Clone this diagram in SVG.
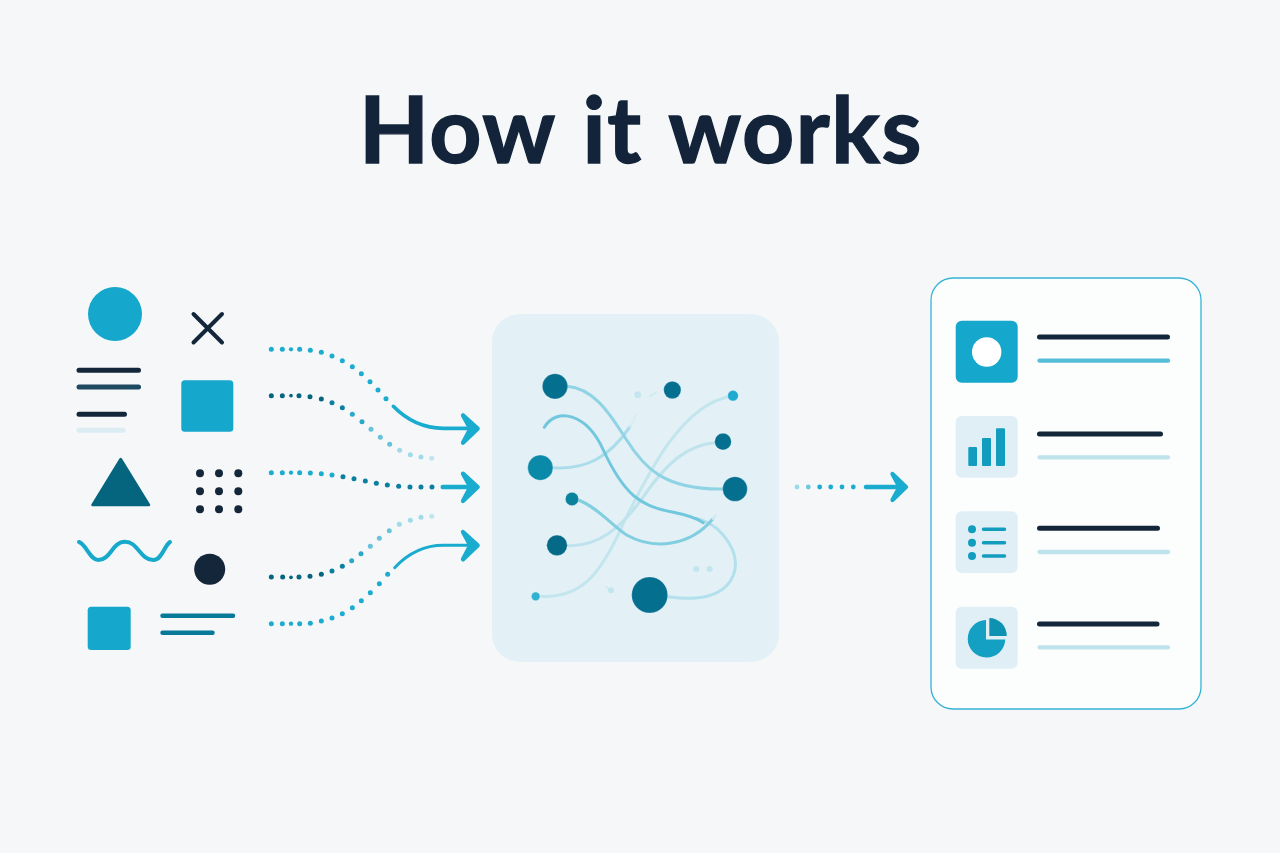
<svg xmlns="http://www.w3.org/2000/svg" width="1280" height="853" viewBox="0 0 1280 853">
<defs><style>
.t{font-family:"Lato","Liberation Sans",sans-serif;font-weight:700;font-size:91px;letter-spacing:1.5px;word-spacing:4px;fill:#13243a;stroke:#13243a;stroke-width:1.4px}
.c{fill:#15a8cc}.d{fill:#14263a}.m{fill:#05657f}
.ln{fill:none;stroke-linecap:round}
.dk{stroke:#14263a}.cy{stroke:#17a9cc}.tl{stroke:#067a98}
.ar{fill:none;stroke:#1aaccf;stroke-linecap:round;stroke-linejoin:round}
.hd{fill:#1aaccf;stroke:#1aaccf;stroke-linejoin:round}
.ic{fill:#e0eff5}
.n{stroke:#fff;stroke-width:.7;fill:#056f8f}
.a{fill:#1baccf}.b{fill:#0a7f9f}.e{fill:#8ad3e6}
</style></defs>
<rect width="1280" height="853" fill="#f6f7f8"/>
<text class="t" x="641" y="163" text-anchor="middle">How it works</text>
<g id="inputs">
<circle class="c" cx="115" cy="314" r="27"/>
<path class="ln dk" stroke-width="4" d="M193.500 314L222 342.500M222 314L193.500 342.500"/>
<path class="ln dk" stroke-width="5" d="M79 370.300H138.500M79 414.300H124.500"/>
<path class="ln" stroke="#1d4a60" stroke-width="5" d="M79 387H138.500"/>
<path class="ln" stroke="#dcecf3" stroke-width="5" d="M79 430.300H123"/>
<rect class="c" x="181.300" y="380.300" width="52" height="51.400" rx="3.500"/>
<path class="m" stroke="#05657f" stroke-width="2.500" stroke-linejoin="round" d="M120.700 459L149 505H92.500Z"/>
<g class="d"><circle cx="200" cy="473.300" r="4"/><circle cx="219" cy="473.300" r="4"/><circle cx="238.300" cy="473.300" r="4"/><circle cx="200" cy="491.300" r="4"/><circle cx="219" cy="491.300" r="4"/><circle cx="238.300" cy="491.300" r="4"/><circle cx="200" cy="509.300" r="4"/><circle cx="219" cy="509.300" r="4"/><circle cx="238.300" cy="509.300" r="4"/></g>
<path class="ln cy" stroke-width="4" d="M79 542C86 544 90 560 98.300 560C111 560 112 541.700 125 541.700C138 541.700 140 560 153.300 560C162 560 164 546 170 542"/>
<circle class="d" cx="209.700" cy="569.300" r="15.500"/>
<rect class="c" x="87.700" y="606.700" width="43" height="43.300" rx="3.500"/>
<path class="ln tl" stroke-width="4.500" d="M162.500 615.700H233M162.500 632.700H212.500"/>
</g>
<g id="connectors">
<g transform="translate(260 330) scale(.33333)">
<g class="a"><circle cx="34" cy="58" r="7.500"/><circle cx="67" cy="58" r="7.500"/><circle cx="93" cy="58" r="6.500"/><circle cx="119" cy="58" r="7.500"/><circle cx="151" cy="61" r="7.500"/><circle cx="184" cy="67" r="7.500"/><circle cx="216" cy="78" r="7.500"/><circle cx="247" cy="92" r="7.500"/><circle cx="277" cy="110" r="7.500"/><circle cx="304" cy="131" r="7.500"/><circle cx="330" cy="155" r="7.500"/><circle cx="354" cy="180" r="7.500"/><circle cx="378" cy="206" r="7.500"/></g>
<g class="m"><circle cx="34" cy="197" r="7.500"/><circle cx="67" cy="197" r="7.500"/><circle cx="93" cy="197" r="5.500"/><circle cx="117" cy="197" r="7.500"/><circle cx="150" cy="200" r="7.500"/><circle cx="184" cy="207" r="7.500"/></g>
<g class="b"><circle cx="216" cy="218" r="7.500"/><circle cx="247" cy="233" r="7.500"/></g>
<g fill="#2aa8c8"><circle cx="277" cy="253" r="7.500"/><circle cx="306" cy="275" r="7.500"/></g>
<g fill="#67c2da"><circle cx="333" cy="298" r="7.500"/><circle cx="361" cy="322" r="7.500"/><circle cx="389" cy="343" r="7.500"/></g>
<g fill="#a0dbea"><circle cx="419" cy="361" r="7.500"/><circle cx="451" cy="374" r="7.500"/><circle cx="483" cy="381" r="7.500"/></g>
<circle cx="515" cy="385" r="7.500" fill="#bfe5ef"/>
<g class="a"><circle cx="34" cy="428" r="7.500"/><circle cx="67" cy="428" r="7.500"/><circle cx="93" cy="428" r="6.500"/><circle cx="119" cy="428" r="7.500"/><circle cx="151" cy="429" r="7.500"/><circle cx="184" cy="431" r="7.500"/><circle cx="216" cy="435" r="7.500"/></g>
<g class="b"><circle cx="249" cy="440" r="7.500"/><circle cx="282" cy="446" r="7.500"/><circle cx="316" cy="453" r="7.500"/><circle cx="349" cy="460" r="7.500"/><circle cx="382" cy="465" r="7.500"/><circle cx="416" cy="469" r="7.500"/><circle cx="450" cy="471" r="7.500"/><circle cx="483" cy="471" r="7.500"/><circle cx="516" cy="471" r="7.500"/></g>
<g class="m"><circle cx="34" cy="741" r="7.500"/><circle cx="68" cy="741" r="7.500"/><circle cx="93" cy="742" r="5.500"/><circle cx="117" cy="741" r="7.500"/><circle cx="150" cy="739" r="7.500"/><circle cx="184" cy="733" r="7.500"/></g>
<g class="b"><circle cx="216" cy="723" r="7.500"/><circle cx="247" cy="709" r="7.500"/></g>
<g fill="#2aa8c8"><circle cx="275" cy="692" r="7.500"/><circle cx="303" cy="671" r="7.500"/></g>
<g fill="#67c2da"><circle cx="331" cy="649" r="7.500"/><circle cx="358" cy="625" r="7.500"/><circle cx="388" cy="602" r="7.500"/></g>
<g fill="#a0dbea"><circle cx="418" cy="583" r="7.500"/><circle cx="451" cy="571" r="7.500"/><circle cx="483" cy="562" r="7.500"/></g>
<circle cx="515" cy="559" r="7.500" fill="#bfe5ef"/>
<g class="a"><circle cx="34" cy="881" r="7.500"/><circle cx="67" cy="881" r="7.500"/><circle cx="93" cy="881" r="6.500"/><circle cx="119" cy="881" r="7.500"/><circle cx="151" cy="880" r="7.500"/><circle cx="184" cy="873" r="7.500"/><circle cx="216" cy="864" r="7.500"/><circle cx="247" cy="851" r="7.500"/><circle cx="277" cy="833" r="7.500"/><circle cx="304" cy="812" r="7.500"/><circle cx="331" cy="788" r="7.500"/><circle cx="358" cy="761" r="7.500"/><circle cx="383" cy="733" r="7.500"/></g>
<path class="ar" stroke-width="11" d="M400 229C440 270 490 295 550 295H630"/>
<path class="ar" stroke-width="13" d="M548 471H630"/>
<path class="ar" stroke-width="9" d="M404 713C440 675 490 646 550 646H630"/>
<g class="hd" stroke-width="13"><path d="M609 256L653 296L609 338L631 296Z"/><path d="M609 431L653 471L609 513L631 471Z"/><path d="M609 606L653 646L609 688L631 646Z"/></g>
</g>
<g fill="#1baccf"><circle cx="797" cy="487" r="2.400" fill="#9adbea"/><circle cx="808.300" cy="487" r="2.400" fill="#6cc8e0"/><circle cx="819.700" cy="487" r="2.400"/><circle cx="830.700" cy="487" r="2.400"/><circle cx="842" cy="487" r="2.400"/><circle cx="853.300" cy="487" r="2.400"/></g>
<path class="ar" stroke-width="4.500" d="M866 487H898"/>
<path class="hd" stroke-width="4.300" d="M892.500 474L906 487L892.500 500L899.500 487Z"/>
</g>
<g id="engine">
<rect x="492" y="314" width="287" height="348" rx="28" fill="#e3f1f6"/>
<g transform="translate(500 350) scale(.33333)">
<g class="ln" fill="none">
<path stroke="#c3e5ee" stroke-width="9" d="M120 739C240 745 300 680 370 520C440 380 540 170 685 140"/>
<path stroke="#bfe3ed" stroke-width="9" d="M205 587C290 590 360 540 430 440C500 340 560 285 645 278"/>
<path stroke="#aadcea" stroke-width="9" d="M160 353C260 360 330 320 390 230"/>
<path stroke="#d7ecf3" stroke-width="6" d="M390 230Q400 215 408 195"/>
<path stroke="#90d3e4" stroke-width="9" d="M200 109C290 115 340 210 380 270C430 350 490 420 670 417"/>
<path stroke="#b2e0ec" stroke-width="9" d="M505 740C570 750 650 750 690 695C720 650 710 590 650 535C630 520 610 510 590 505"/>
<path stroke="#71c7dd" stroke-width="9" d="M133 232C170 170 260 190 310 300C370 430 420 470 520 487C560 495 590 505 610 518"/>
<path stroke="#82cee1" stroke-width="9" d="M235 450C290 470 340 530 380 555C460 600 570 590 638 507"/>
<path stroke="#d0eaf2" stroke-width="6" d="M638 507L648 495M450 139L468 128M319 711L328 717"/>
</g>
<g fill="#c3e5ee"><circle cx="413" cy="134" r="10"/><circle cx="589" cy="657" r="9"/><circle cx="629" cy="657" r="9"/><circle cx="333" cy="721" r="9"/></g>
<circle class="n" cx="165" cy="109" r="38"/>
<circle class="n" cx="517" cy="120" r="26"/>
<circle cx="699" cy="137" r="16" fill="#1ea9cf" stroke="#fff"/>
<circle class="n" cx="669" cy="275" r="25"/>
<circle class="n" cx="705" cy="417" r="37"/>
<circle cx="121" cy="353" r="38" fill="#0a8aa8" stroke="#fff"/>
<circle cx="216" cy="447" r="20" fill="#0a829e" stroke="#fff"/>
<circle cx="171" cy="586" r="31" fill="#056a88" stroke="#fff"/>
<circle cx="107" cy="739" r="13" fill="#2fb2d2" stroke="#fff"/>
<circle class="n" cx="449" cy="735" r="54"/>
</g>
</g>
<g id="result-card">
<rect x="931" y="278" width="270" height="431" rx="22" fill="#fcfdfd" stroke="#35b4d6" stroke-width="1.300"/>
<rect class="c" x="955.700" y="320.700" width="62" height="62" rx="6"/>
<circle cx="986.700" cy="352" r="14.700" fill="#fff"/>
<rect class="ic" x="955.700" y="416" width="62" height="61.700" rx="6"/>
<g fill="#129dbf"><rect x="968.300" y="447" width="8.700" height="19" rx="1"/><rect x="982" y="438" width="9" height="28" rx="1"/><rect x="996" y="428.300" width="9" height="37.700" rx="1"/></g>
<rect class="ic" x="955.700" y="511.300" width="62" height="61.700" rx="6"/>
<g fill="#129dbf"><circle cx="972" cy="529.300" r="4"/><circle cx="972" cy="542.700" r="4"/><circle cx="972" cy="556" r="4"/></g>
<path class="ln" stroke="#129dbf" stroke-width="3.500" d="M983.500 529.300H1004.500M983.500 542.700H1004.500M983.500 556H1004.500"/>
<rect class="ic" x="955.700" y="606.700" width="62" height="62" rx="6"/>
<path fill="#13a0c2" d="M986 620V639.500H1005.300A18.800 18.800 0 1 1 986 620Z"/>
<path fill="#0f92b2" d="M989.300 618V636H1006.700A17.500 17.500 0 0 0 989.300 618Z"/>
<path class="ln dk" stroke-width="5" d="M1039.500 337H1167.500M1039.500 434H1160.500M1039.500 528.300H1157.500M1039.500 624H1157"/>
<path class="ln" stroke="#55bdd8" stroke-width="4.300" d="M1039.500 360.700H1168"/>
<path class="ln" stroke="#bfe3ec" stroke-width="4.300" d="M1039.500 457.300H1168M1039.500 552H1168M1039.500 647.300H1168"/>
</g>
</svg>
